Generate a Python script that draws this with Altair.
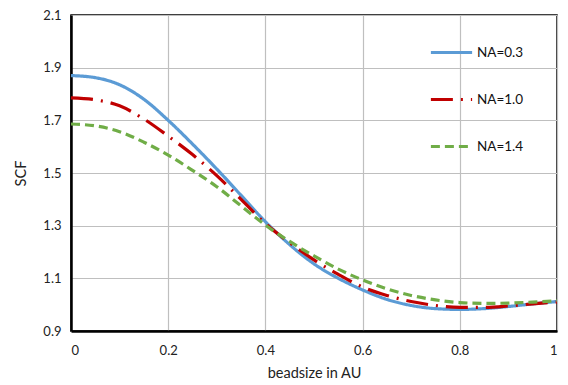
import altair as alt
import pandas as pd

x_vals = [0, 0.05, 0.1, 0.15, 0.2, 0.25, 0.3, 0.35, 0.4, 0.45, 0.5,
          0.55, 0.6, 0.65, 0.7, 0.75, 0.8, 0.85, 0.9, 0.95, 1.0]
na03 = [1.87, 1.862, 1.835, 1.78, 1.70, 1.61, 1.515, 1.415, 1.315, 1.228, 1.155,
        1.10, 1.056, 1.02, 0.997, 0.985, 0.982, 0.985, 0.993, 1.003, 1.012]
na10 = [1.785, 1.778, 1.755, 1.705, 1.64, 1.57, 1.49, 1.40, 1.308, 1.235, 1.17,
        1.115, 1.067, 1.035, 1.012, 0.997, 0.99, 0.99, 0.995, 1.003, 1.01]
na14 = [1.686, 1.679, 1.657, 1.617, 1.568, 1.51, 1.448, 1.375, 1.302, 1.24, 1.185,
        1.135, 1.094, 1.06, 1.035, 1.018, 1.008, 1.005, 1.006, 1.01, 1.015]
series_names = ["NA=0.3", "NA=1.0", "NA=1.4"]
x_ticks = [0, 0.2, 0.4, 0.6, 0.8, 1]
y_ticks = [0.9, 1.1, 1.3, 1.5, 1.7, 1.9, 2.1]

rows = []
for name, ys in zip(series_names, [na03, na10, na14]):
    for x, y in zip(x_vals, ys):
        rows.append({"beadsize": x, "SCF": y, "series": name})
df = pd.DataFrame(rows)

colors = ["#5B9BD5", "#C00000", "#70AD47"]
dashes = [[1, 0], [22, 8, 2, 8], [9, 5]]
FONT = "Lato"

chart = alt.Chart(df).mark_line(strokeWidth=3.2, interpolate="monotone").encode(
    x=alt.X("beadsize:Q", scale=alt.Scale(domain=[0, 1], nice=False),
            axis=alt.Axis(values=x_ticks, title="beadsize in AU",
                          labelExpr="datum.value + ''", grid=True)),
    y=alt.Y("SCF:Q", scale=alt.Scale(domain=[0.9, 2.1], nice=False, zero=False),
            axis=alt.Axis(values=y_ticks, title="SCF", format=".1f", grid=True)),
    color=alt.Color("series:N", scale=alt.Scale(domain=series_names, range=colors),
                    legend=alt.Legend(title=None, orient="none", legendX=358, legendY=15,
                                      symbolType="stroke", symbolSize=1700,
                                      symbolStrokeWidth=3.2, labelFontSize=13.5,
                                      labelFont=FONT, labelColor="#111",
                                      rowPadding=18, labelOffset=3)),
    strokeDash=alt.StrokeDash("series:N", scale=alt.Scale(domain=series_names, range=dashes),
                              legend=None),
).properties(
    width=486, height=316,
    autosize=alt.AutoSizeParams(type="none"),
    padding={"left": 71, "top": 15, "right": 11, "bottom": 54},
).configure_view(
    stroke="#000", strokeWidth=1.5
).configure_axis(
    labelFont=FONT, titleFont=FONT, labelFontSize=13, titleFontSize=14.5,
    labelColor="#222", titleColor="#222", titleFontWeight="normal",
    gridColor="#BFBFBF", gridWidth=1.2, ticks=False,
    domainColor="#000", domainWidth=2.5, labelPadding=10,
).configure_axisX(
    labelPadding=13, titlePadding=9
).configure_axisY(
    titlePadding=14
)

chart.save("out.html", embed_options={"renderer": "svg", "actions": False})
